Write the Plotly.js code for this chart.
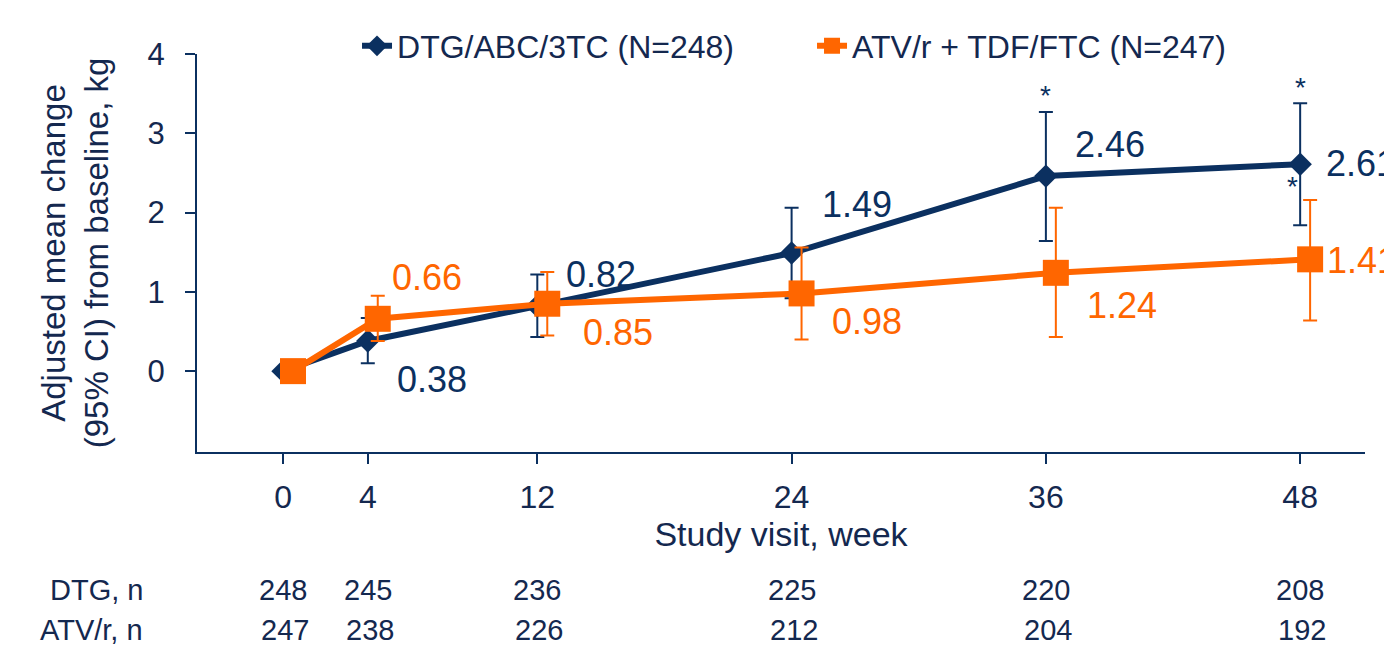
<!DOCTYPE html>
<html>
<head>
<meta charset="utf-8">
<script src="https://cdn.plot.ly/plotly-3.0.1.min.js"></script>
<style>html,body{margin:0;padding:0;background:#fff}#chart{width:1384px;height:650px}</style>
</head>
<body>
<div id="chart"></div>
<script>
// ---- data ----
const weeks = [0, 4, 12, 24, 36, 48];
const weekLabels = ['0', '4', '12', '24', '36', '48'];
const dtgName = 'DTG/ABC/3TC (N=248)';
const atvName = 'ATV/r + TDF/FTC (N=247)';
const dtgMean = [0, 0.38, 0.82, 1.49, 2.46, 2.61];
const dtgLower = [null, 0.10, 0.43, 0.92, 1.64, 1.84];
const dtgUpper = [null, 0.67, 1.22, 2.06, 3.27, 3.38];
const atvMean = [0, 0.66, 0.85, 0.98, 1.24, 1.41];
const atvLower = [null, 0.38, 0.45, 0.40, 0.43, 0.64];
const atvUpper = [null, 0.95, 1.25, 1.56, 2.06, 2.16];
const dtgN = [248, 245, 236, 225, 220, 208];
const atvN = [247, 238, 226, 212, 204, 192];
const rowLabels = ['DTG, n', 'ATV/r, n'];
const yTicks = [0, 1, 2, 3, 4];
// significance asterisks: week and which value they sit beside
const asteriskWeeks = [36, 48, 48];
const asteriskAt = ['upper', 'upper', 'mean'];

// ---- style ----
const NAVY = '#0B3060';
const TEXT = '#14284F';
const ORANGE = '#FF6600';
const FONT = 'Arial, "Liberation Sans", sans-serif';
const atvOffset = 0.47; // horizontal dodge of the ATV series (weeks)
// label offsets in px [xshift, yshift] for each point
const dtgLabelShift = [null, [64, -38], [64, 32], [65, 49], [64, 32], [61, 1]];
const atvLabelShift = [null, [49, 41], [71, -29], [65, -28], [66, -33], [52, -1]];
const asteriskShift = [[0, 16], [0, 16], [-8, -22]];
const nRowY = [-0.347, -0.447]; // paper y of the two n rows

const up = (m, u) => m.map((v, i) => u[i] == null ? NaN : u[i] - v);
const down = (m, l) => m.map((v, i) => l[i] == null ? NaN : v - l[i]);
const atvX = weeks.map(w => w + atvOffset);

const traces = [
  {
    name: dtgName, x: weeks, y: dtgMean, type: 'scatter', mode: 'lines+markers',
    line: {color: NAVY, width: 6},
    marker: {symbol: 'diamond', size: 18, color: NAVY},
    error_y: {type: 'data', symmetric: false, array: up(dtgMean, dtgUpper), arrayminus: down(dtgMean, dtgLower),
      color: NAVY, thickness: 2, width: 7},
    cliponaxis: false
  },
  {
    name: atvName, x: atvX, y: atvMean, type: 'scatter', mode: 'lines+markers',
    line: {color: ORANGE, width: 6},
    marker: {symbol: 'square', size: 26, color: ORANGE},
    error_y: {type: 'data', symmetric: false, array: up(atvMean, atvUpper), arrayminus: down(atvMean, atvLower),
      color: ORANGE, thickness: 2, width: 7},
    cliponaxis: false
  }
];

const annotations = [];
weeks.forEach((w, i) => {
  if (dtgLabelShift[i]) annotations.push({x: w, y: dtgMean[i], xref: 'x', yref: 'y', text: dtgMean[i].toFixed(2),
    showarrow: false, xshift: dtgLabelShift[i][0], yshift: dtgLabelShift[i][1],
    font: {family: FONT, size: 36, color: NAVY}});
  if (atvLabelShift[i]) annotations.push({x: atvX[i], y: atvMean[i], xref: 'x', yref: 'y', text: atvMean[i].toFixed(2),
    showarrow: false, xshift: atvLabelShift[i][0], yshift: atvLabelShift[i][1],
    font: {family: FONT, size: 36, color: ORANGE}});
  annotations.push({x: w, y: nRowY[0], xref: 'x', yref: 'paper', yanchor: 'middle', text: String(dtgN[i]), showarrow: false,
    font: {family: FONT, size: 29, color: TEXT}});
  annotations.push({x: w, y: nRowY[1], xref: 'x', yref: 'paper', yanchor: 'middle', text: String(atvN[i]), showarrow: false, xshift: 2,
    font: {family: FONT, size: 29, color: TEXT}});
});
rowLabels.forEach((t, j) => {
  annotations.push({x: -0.0445, y: nRowY[j], xref: 'paper', yref: 'paper', xanchor: 'right', yanchor: 'middle',
    text: t, showarrow: false, font: {family: FONT, size: 29, color: TEXT}});
});
asteriskWeeks.forEach((w, k) => {
  const i = weeks.indexOf(w);
  const yv = asteriskAt[k] === 'upper' ? dtgUpper[i] : dtgMean[i];
  annotations.push({x: w, y: yv, xref: 'x', yref: 'y', text: '*', showarrow: false,
    xshift: asteriskShift[k][0], yshift: asteriskShift[k][1],
    font: {family: FONT, size: 28, color: NAVY}});
});

const layout = {
  width: 1384, height: 650,
  margin: {l: 197, r: 19, t: 54, b: 198},
  paper_bgcolor: '#fff', plot_bgcolor: '#fff',
  font: {family: FONT, color: TEXT},
  showlegend: true,
  legend: {orientation: 'h', x: 0.137, xanchor: 'left', y: 1.02, yanchor: 'middle',
    entrywidth: 410, entrywidthmode: 'pixels',
    font: {family: FONT, size: 32, color: TEXT}, bgcolor: 'rgba(0,0,0,0)'},
  xaxis: {
    range: [-4.06, 51.06], tickvals: weeks, ticktext: weekLabels,
    showline: true, linecolor: NAVY, linewidth: 2, ticks: 'outside', ticklen: 10, tickwidth: 2, tickcolor: NAVY,
    showgrid: false, zeroline: false, tickfont: {family: FONT, size: 32, color: TEXT}, ticklabelstandoff: 6,
    title: {text: 'Study visit, week', font: {family: FONT, size: 34, color: TEXT}, standoff: 8}
  },
  yaxis: {
    range: [-1.02, 4], tickvals: yTicks,
    showline: true, linecolor: NAVY, linewidth: 2, ticks: 'outside', ticklen: 10, tickwidth: 2, tickcolor: NAVY,
    showgrid: false, zeroline: false, tickfont: {family: FONT, size: 31, color: TEXT}, ticklabelstandoff: 14,
    title: {text: 'Adjusted mean change<br>(95% CI) from baseline, kg', font: {family: FONT, size: 33, color: TEXT}, standoff: 29}
  },
  annotations: annotations
};

Plotly.newPlot('chart', traces, layout, {displayModeBar: false, staticPlot: true});
</script>
</body>
</html>
